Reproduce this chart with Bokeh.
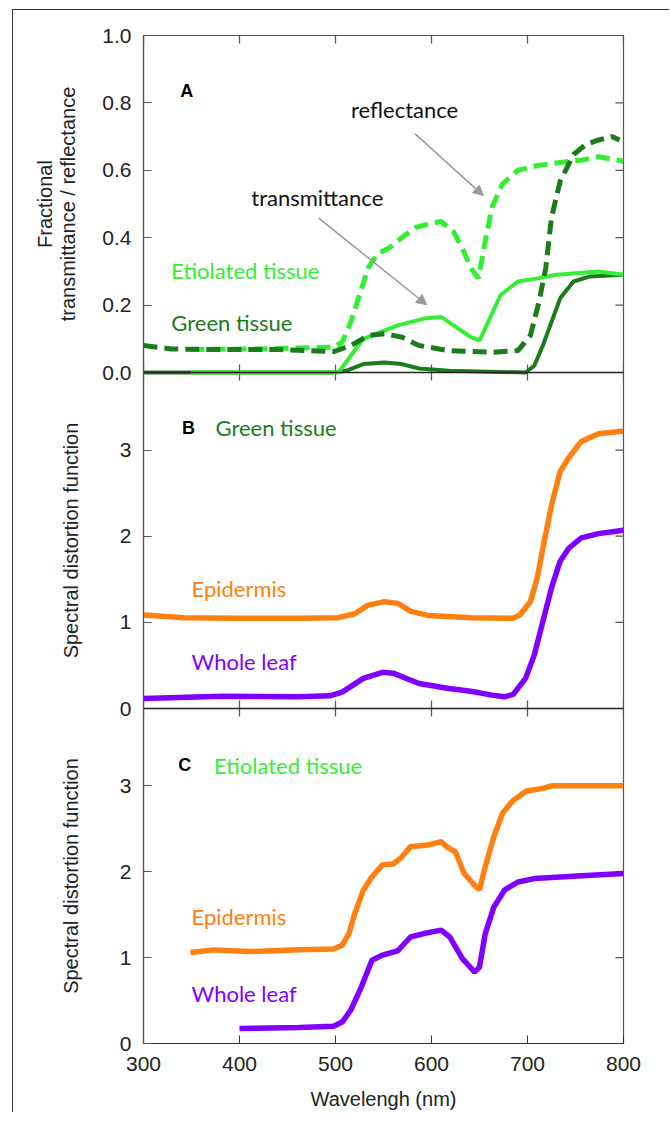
import math
from bokeh.plotting import figure
from bokeh.models import (Range1d, LinearAxis, FixedTicker, Label, Arrow, NormalHead, Span)
from bokeh.embed import file_html
from bokeh.resources import INLINE
from bokeh.layouts import row

# ---------------- data ----------------
# Panel A : fractional transmittance / reflectance
a_wl_green_refl = [300, 329, 373, 440, 498, 516, 534, 551, 569, 587, 618, 663, 690, 703, 712, 719, 725, 734, 748, 761, 774, 788, 796]
a_green_refl = [0.08, 0.07, 0.068, 0.068, 0.062, 0.08, 0.11, 0.115, 0.105, 0.08, 0.065, 0.06, 0.065, 0.11, 0.21, 0.31, 0.46, 0.567, 0.647, 0.677, 0.69, 0.70, 0.69]

a_wl_etio_refl = [349, 418, 498, 507, 516, 525, 534, 543, 556, 569, 583, 596, 610, 623, 632, 641, 649, 656, 663, 674, 690, 712, 739, 756, 774, 800]
a_etio_refl = [0.068, 0.07, 0.075, 0.09, 0.15, 0.23, 0.31, 0.35, 0.37, 0.40, 0.43, 0.44, 0.448, 0.418, 0.37, 0.31, 0.28, 0.39, 0.49, 0.56, 0.60, 0.615, 0.625, 0.63, 0.64, 0.627]

a_wl_green_trans = [300, 498, 511, 529, 551, 569, 587, 618, 698, 707, 716, 725, 734, 748, 765, 800]
a_green_trans = [0.0, 0.0, 0.005, 0.025, 0.03, 0.025, 0.012, 0.005, 0.0, 0.02, 0.08, 0.15, 0.22, 0.27, 0.285, 0.29]

a_wl_etio_trans = [349, 503, 516, 529, 547, 565, 592, 610, 628, 641, 650, 659, 672, 690, 712, 730, 774, 800]
a_etio_trans = [0.0, 0.0, 0.05, 0.10, 0.12, 0.14, 0.16, 0.165, 0.13, 0.105, 0.095, 0.15, 0.23, 0.27, 0.28, 0.29, 0.30, 0.29]

# Panel B : green tissue spectral distortion
b_wl_epi = [300, 342, 400, 462, 503, 520, 534, 551, 565, 578, 596, 641, 685, 692, 703, 710, 716, 725, 734, 743, 756, 774, 800]
b_epi = [1.085, 1.054, 1.047, 1.047, 1.054, 1.10, 1.20, 1.24, 1.22, 1.13, 1.08, 1.054, 1.047, 1.085, 1.24, 1.51, 1.86, 2.36, 2.75, 2.91, 3.10, 3.19, 3.22]

b_wl_leaf = [300, 382, 462, 494, 507, 529, 549, 560, 587, 618, 641, 663, 676, 685, 698, 707, 716, 725, 734, 743, 756, 774, 800]
b_leaf = [0.116, 0.143, 0.136, 0.147, 0.19, 0.35, 0.42, 0.41, 0.29, 0.233, 0.20, 0.155, 0.136, 0.163, 0.35, 0.62, 1.01, 1.40, 1.71, 1.86, 1.98, 2.03, 2.07]

# Panel C : etiolated tissue spectral distortion
c_wl_epi = [349, 373, 409, 462, 498, 507, 514, 520, 529, 538, 549, 560, 569, 578, 596, 610, 616, 625, 634, 645, 650, 656, 665, 674, 685, 699, 716, 725, 800]
c_epi = [1.06, 1.09, 1.07, 1.09, 1.10, 1.145, 1.28, 1.51, 1.785, 1.94, 2.08, 2.09, 2.17, 2.29, 2.31, 2.35, 2.29, 2.23, 1.98, 1.84, 1.79, 2.06, 2.41, 2.68, 2.83, 2.94, 2.97, 3.0, 3.0]

c_wl_leaf = [400, 462, 498, 507, 516, 527, 538, 549, 565, 578, 592, 610, 619, 632, 645, 650, 656, 665, 676, 690, 707, 752, 800]
c_leaf = [0.175, 0.186, 0.20, 0.25, 0.39, 0.66, 0.97, 1.03, 1.08, 1.24, 1.28, 1.32, 1.24, 0.99, 0.83, 0.89, 1.28, 1.59, 1.785, 1.88, 1.92, 1.95, 1.98]

x_ticks = [300, 400, 500, 600, 700, 800]
a_y_ticks = [0.0, 0.2, 0.4, 0.6, 0.8, 1.0]
a_y_labels = ["0.0", "0.2", "0.4", "0.6", "0.8", "1.0"]
bc_y_ticks = [0, 1, 2, 3]
bc_y_labels = ["0", "1", "2", "3"]

# ---------------- style / geometry ----------------
DARK = "#1c7c1c"
LIGHT = "#33ee33"
ORANGE = "#ff8010"
PURPLE = "#8000ff"
AXIS = "#555555"
SANS = "Liberation Sans"
ANN = "Lato"

hA, hB, hC = 337, 336, 335          # pixel heights of the three stacked panels
H = hA + hB + hC
BC_TOP = 3.9                         # y-axis top of panels B and C
TITLE_W = 84                         # width of the strip holding the y-axis titles
X0, X1 = 300, 800

y_c = Range1d(0, BC_TOP * H / hC)    # panel C scale (default range)
y_extra = {
    "b": Range1d(-BC_TOP * hC / hB, BC_TOP * (H - hC) / hB),
    "a": Range1d(-(hB + hC) / hA, 1.0),
}

p = figure(frame_width=480, frame_height=H, x_range=Range1d(X0, X1), y_range=y_c,
           output_backend="svg", toolbar_location=None,
           x_axis_location=None, y_axis_location=None,
           min_border_left=46, min_border_right=46, min_border_top=25, min_border_bottom=0)
p.extra_y_ranges = y_extra
p.outline_line_color = AXIS
p.outline_line_width = 1.2
p.border_fill_color = "white"
for g in p.grid:
    g.visible = False


def to_c(v, panel):
    """convert a panel value into the default (panel C) scale, for tick placement"""
    if panel == "c":
        return v
    if panel == "b":
        px = hC + v * hB / BC_TOP
    else:
        px = hC + hB + v * hA
    return px * BC_TOP / hC


tick_pos, tick_txt = [], {}
for v, t in zip(bc_y_ticks, bc_y_labels):
    for pan in ("c", "b"):
        pos = to_c(v, pan)
        tick_pos.append(pos)
        tick_txt[pos] = t
for v, t in zip(a_y_ticks, a_y_labels):
    pos = to_c(v, "a")
    tick_pos.append(pos)
    tick_txt[pos] = t


def base_axis(ax, ticks, color=AXIS):
    ax.ticker = FixedTicker(ticks=ticks)
    ax.axis_line_color = color
    ax.axis_line_width = 1.2
    ax.major_tick_line_color = color
    ax.major_tick_in = 8
    ax.major_tick_out = 0
    ax.minor_tick_line_color = None


left = LinearAxis()
base_axis(left, tick_pos)
left.major_label_overrides = tick_txt
left.major_label_text_font = SANS
left.major_label_text_font_size = "21px"
left.major_label_text_color = "#222222"
left.major_label_standoff = 12
p.add_layout(left, "left")

bottom = LinearAxis()
base_axis(bottom, x_ticks, "#333333")
bottom.major_label_text_font = SANS
bottom.major_label_text_font_size = "21px"
bottom.major_label_text_color = "#222222"
bottom.major_label_standoff = 13
bottom.axis_label = "Wavelengh (nm)"
bottom.axis_label_text_font = SANS
bottom.axis_label_text_font_size = "20px"
bottom.axis_label_text_font_style = "normal"
bottom.axis_label_text_color = "#222222"
bottom.axis_label_standoff = 14
p.add_layout(bottom, "below")

# inward ticks on the top and right edges (the outer half of each dash is clipped by the frame)
p.scatter(x_ticks, [1.0] * len(x_ticks), marker="dash", size=16, angle=math.pi / 2,
          line_color=AXIS, line_width=1.2, y_range_name="a")
p.scatter([X1] * len(tick_pos), tick_pos, marker="dash", size=16,
          line_color=AXIS, line_width=1.2)

# panel separators with inward ticks on both sides
for rng, yv in (("a", 0.0), ("b", 0.0)):
    p.add_layout(Span(location=yv, dimension="width", line_color="#222222",
                      line_width=1.5, y_range_name=rng))
    p.scatter(x_ticks, [yv] * len(x_ticks), marker="dash", size=16, angle=math.pi / 2,
              line_color=AXIS, line_width=1.2, y_range_name=rng)

# ---------------- strip with the rotated y-axis titles ----------------
t = figure(frame_width=TITLE_W, frame_height=H, x_range=Range1d(0, TITLE_W), y_range=y_c,
           output_backend="svg", toolbar_location=None,
           x_axis_location=None, y_axis_location=None,
           min_border_left=0, min_border_right=0, min_border_top=25, min_border_bottom=0)
t.extra_y_ranges = y_extra
t.outline_line_color = None
t.border_fill_color = "white"
for g in t.grid:
    g.visible = False


def ytitle(xs, y, rng, text):
    t.add_layout(Label(x=xs, y=y, y_range_name=rng, text=text,
                       angle=math.pi / 2, text_align="center", text_baseline="middle",
                       text_font=SANS, text_font_size="20px", text_color="#222222"))


ytitle(31.5, 0.5, "a", "Fractional")
ytitle(54.5, 0.5, "a", "transmittance / reflectance")
ytitle(57.5, BC_TOP / 2, "b", "Spectral distortion function")
ytitle(57.5, BC_TOP / 2, "default", "Spectral distortion function")


def label(x, y, rng, text, color, font=ANN, size="22px", align="left", bold=False):
    p.add_layout(Label(x=x, y=y, y_range_name=rng, text=text, text_color=color,
                       text_font=font, text_font_size=size, text_align=align,
                       text_baseline="middle", text_font_style="bold" if bold else "normal"))


# ---------------- panel A ----------------
p.line(a_wl_green_trans, a_green_trans, line_color=DARK, line_width=4, y_range_name="a")
p.line(a_wl_etio_trans, a_etio_trans, line_color=LIGHT, line_width=4, y_range_name="a")
p.line(a_wl_etio_refl, a_etio_refl, line_color=LIGHT, line_width=5, line_dash="14 7", y_range_name="a")
p.line(a_wl_green_refl, a_green_refl, line_color=DARK, line_width=5, line_dash="14 7", y_range_name="a")

label(345, 0.835, "a", "A", "black", font=SANS, size="18px", align="center", bold=True)
label(572, 0.78, "a", "reflectance", "#111111", align="center")
label(481, 0.52, "a", "transmittance", "#111111", align="center")
label(329, 0.303, "a", "Etiolated tissue", LIGHT)
label(329, 0.149, "a", "Green tissue", DARK)
for xs, ys, xe, ye in [(583, 0.708, 654, 0.525), (482.5, 0.458, 595, 0.201)]:
    p.add_layout(Arrow(x_start=xs, y_start=ys, x_end=xe, y_end=ye, y_range_name="a",
                       line_color="#999999", line_width=1.5,
                       end=NormalHead(size=10, fill_color="#999999", line_color="#999999")))

# ---------------- panel B ----------------
p.line(b_wl_epi, b_epi, line_color=ORANGE, line_width=5.5, y_range_name="b")
p.line(b_wl_leaf, b_leaf, line_color=PURPLE, line_width=5.5, y_range_name="b")
label(347, 3.26, "b", "B", "black", font=SANS, size="18px", align="center", bold=True)
label(375, 3.26, "b", "Green tissue", DARK)
label(350, 1.395, "b", "Epidermis", ORANGE)
label(350, 0.55, "b", "Whole leaf", PURPLE)

# ---------------- panel C ----------------
p.line(c_wl_epi, c_epi, line_color=ORANGE, line_width=5.5)
p.line(c_wl_leaf, c_leaf, line_color=PURPLE, line_width=5.5)
label(343, 3.24, "default", "C", "black", font=SANS, size="18px", align="center", bold=True)
label(373.5, 3.24, "default", "Etiolated tissue", LIGHT)
label(350, 1.475, "default", "Epidermis", ORANGE)
label(350, 0.58, "default", "Whole leaf", PURPLE)

layout = row(t, p, spacing=0,
             styles={"margin-left": "12px", "margin-top": "9px",
                     "border-left": "1.5px solid #333333",
                     "border-top": "1.5px solid #333333"})

open("out.html", "w").write(file_html(layout, INLINE))
